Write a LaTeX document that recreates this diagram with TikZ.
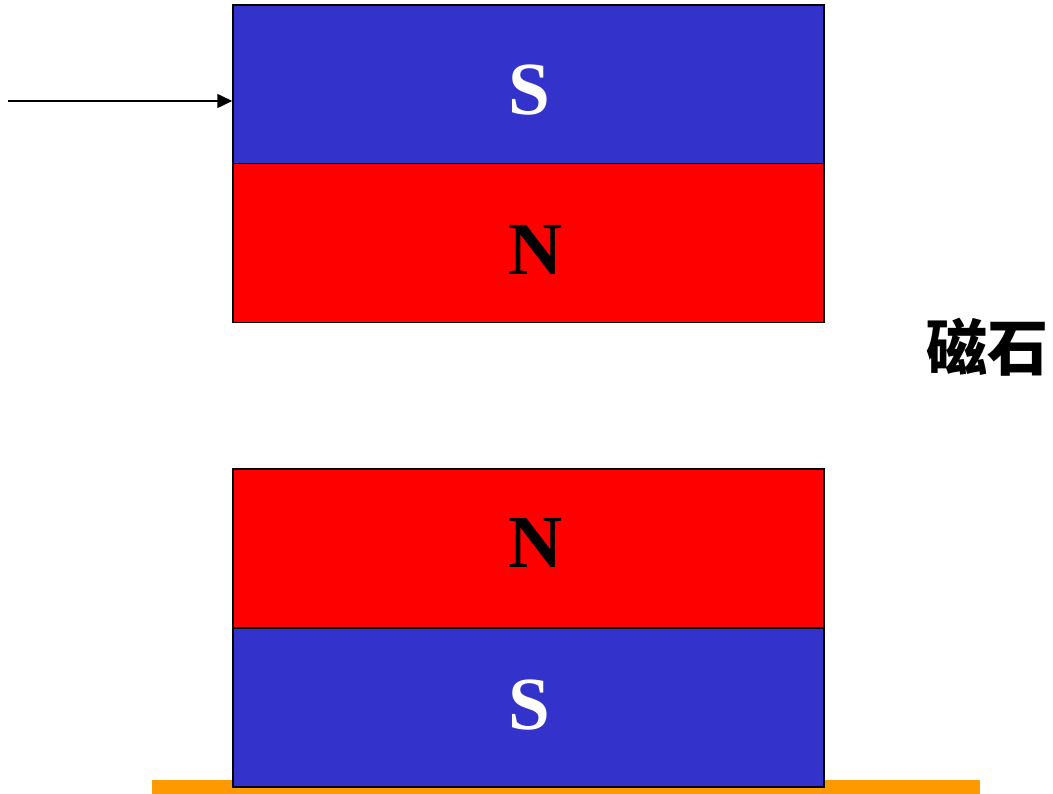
\documentclass[tikz,border=0pt]{standalone}
\usepackage{fontspec}
\setmainfont{Liberation Serif}
\newfontfamily\cjk{Noto Sans CJK SC}
\usetikzlibrary{arrows.meta}
\definecolor{magblue}{HTML}{3333CC}
\definecolor{magred}{HTML}{FF0000}
\definecolor{barorange}{HTML}{FF9900}
\tikzset{
  pole/.style={draw=black, line width=1.5pt, inner sep=0pt, minimum width=591pt, minimum height=159pt},
  spole/.style={pole, fill=magblue},
  npole/.style={pole, fill=magred},
  polelabel/.style={font=\bfseries\fontsize{75}{80}\selectfont, anchor=base, inner sep=0pt},
}
\begin{document}
\begin{tikzpicture}[x=1pt,y=-1pt]
\useasboundingbox (0,0) rectangle (1053,794);
% orange base
\fill[barorange] (152,780) rectangle (980,794);
% top magnet
\node[spole] (ts) at (528.5,84.5) {};
\node[npole] (tn) at (528.5,243) {};
% bottom magnet
\node[npole] (bn) at (528.5,548.5) {};
\node[spole] (bs) at (528.5,707.5) {};
% labels
\node[polelabel, text=white] (tsl) at (529.5,115) {S};
\node[polelabel, text=black] (tnl) at (536,275) {N};
\node[polelabel, text=black] (bnl) at (536,567) {N};
\node[polelabel, text=white] (bsl) at (529,729) {S};
% arrow
\coordinate (astart) at (8,101);
\draw[line width=1.5pt, -{Triangle[length=15pt,width=14pt]}] (astart) -- (ts.west |- astart);
% magnet label
\node[font=\cjk\bfseries\fontsize{61}{66}\selectfont, anchor=east, inner sep=0pt] (lab) at (1049,347) {磁石};
\end{tikzpicture}
\end{document}
